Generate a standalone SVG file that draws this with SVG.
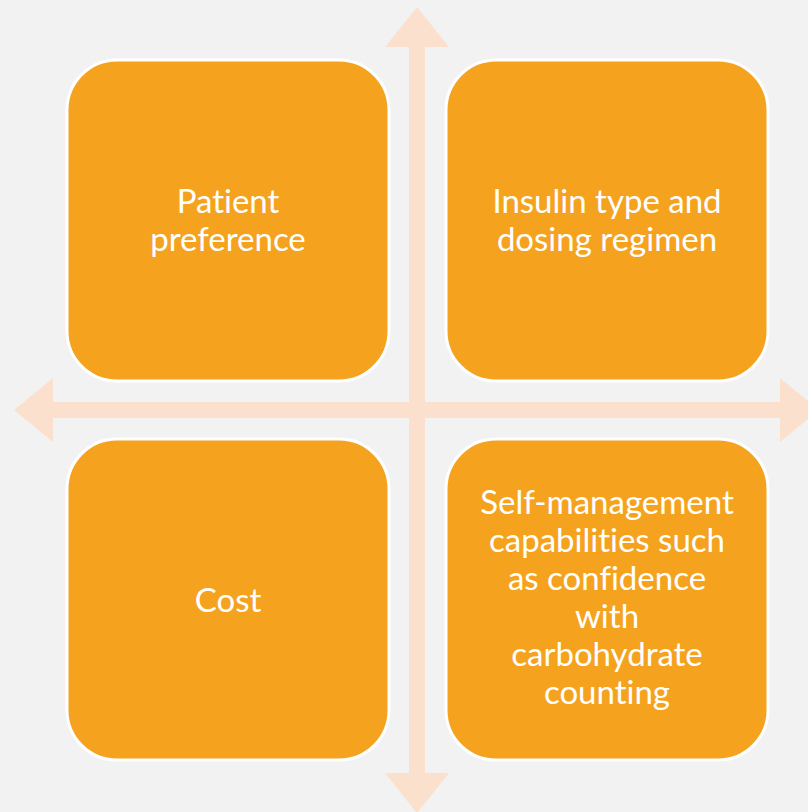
<svg xmlns="http://www.w3.org/2000/svg" width="808" height="812" viewBox="0 0 808 812">
  <style>
    .box { fill: #F5A31F; stroke: #FFFFFF; stroke-width: 3; }
    .axis { fill: #FBE1CD; }
    .label { fill: #FFFFFF; font-family: Lato, "Open Sans", "Liberation Sans", sans-serif; font-size: 33px; text-anchor: middle; font-variant-ligatures: none; }
  </style>
  <rect width="808" height="812" fill="#F2F2F2"/>

  <!-- cross of double-headed arrows -->
  <g id="connectors">
    <polygon class="axis" points="417,7 449,47 425,47 425,773 449,773 417,813 385,773 409,773 409,47 385,47"/>
    <polygon class="axis" points="14,410 53,378 53,402 780,402 780,378 819,410 780,442 780,418 53,418 53,442"/>
  </g>

  <g id="node-patient-preference">
    <rect class="box" x="67" y="60" width="322" height="321" rx="50" ry="50"/>
    <text class="label" x="228" y="213">Patient</text>
    <text class="label" x="228" y="251">preference</text>
  </g>

  <g id="node-insulin-type">
    <rect class="box" x="446" y="60" width="322" height="321" rx="50" ry="50"/>
    <text class="label" x="607" y="213">Insulin type and</text>
    <text class="label" x="607" y="251">dosing regimen</text>
  </g>

  <g id="node-cost">
    <rect class="box" x="67" y="439" width="322" height="321" rx="50" ry="50"/>
    <text class="label" x="228" y="612">Cost</text>
  </g>

  <g id="node-self-management">
    <rect class="box" x="446" y="439" width="322" height="321" rx="50" ry="50"/>
    <text class="label" x="607" y="514">Self-management</text>
    <text class="label" x="607" y="552">capabilities such</text>
    <text class="label" x="607" y="590">as confidence</text>
    <text class="label" x="607" y="628">with</text>
    <text class="label" x="607" y="666">carbohydrate</text>
    <text class="label" x="607" y="704">counting</text>
  </g>
</svg>
